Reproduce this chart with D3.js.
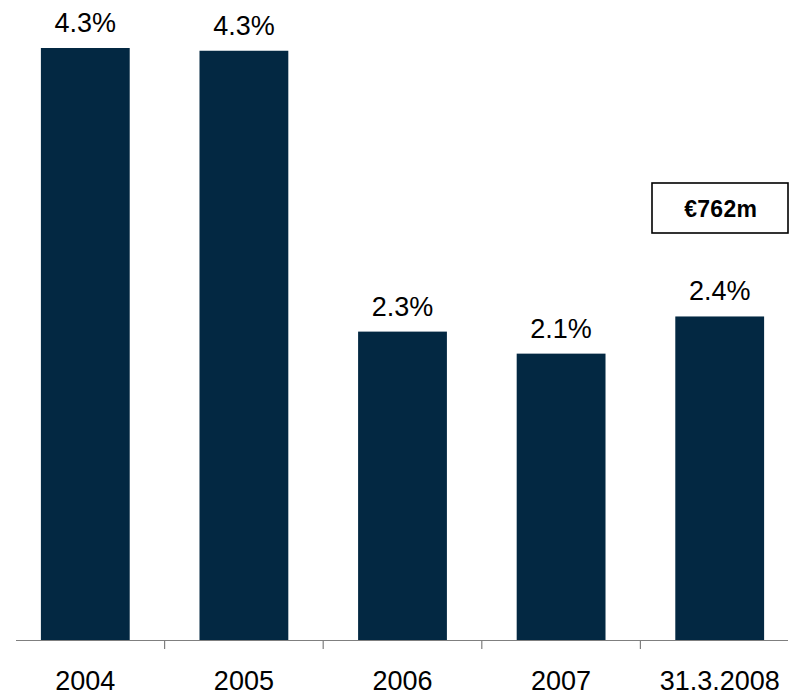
<!DOCTYPE html>
<html>
<head>
<meta charset="utf-8">
<script src="https://cdn.jsdelivr.net/npm/d3@7"></script>
<style>
  body { margin: 0; background: #fff; }
  text { font-family: "Liberation Sans", Arial, sans-serif; fill: #000; }
</style>
</head>
<body>
<div id="wrapper"></div>
<script>
const categories = ["2004", "2005", "2006", "2007", "31.3.2008"]
const values = [4.30, 4.28, 2.24, 2.08, 2.35]
const valueLabels = ["4.3%", "4.3%", "2.3%", "2.1%", "2.4%"]
const calloutText = "€762m"

function drawBarChart() {
    const dimensions = {
        width: 799,
        height: 696,
        baseline: 640,
        top: 48,
    }

    const svg = d3.select("#wrapper")
        .append("svg")
        .attr("width", dimensions.width)
        .attr("height", dimensions.height)

    const xScale = d3.scaleBand()
        .domain(categories)
        .range([6, 799])
        .paddingInner(0.44)
        .paddingOuter(0.22)

    const yScale = d3.scaleLinear()
        .domain([0, 4.3])
        .range([dimensions.baseline, dimensions.top])

    const step = xScale.step()
    const gap = step * xScale.paddingInner()

    // bars
    svg.append("g")
        .selectAll("rect")
        .data(values)
        .join("rect")
        .attr("x", (d, i) => xScale(categories[i]))
        .attr("y", d => yScale(d))
        .attr("width", xScale.bandwidth())
        .attr("height", d => yScale(0) - yScale(d))
        .attr("fill", "#032842")

    // value labels
    svg.append("g")
        .selectAll("text")
        .data(values)
        .join("text")
        .attr("x", (d, i) => xScale(categories[i]) + xScale.bandwidth() / 2)
        .attr("y", d => yScale(d) - 16)
        .attr("text-anchor", "middle")
        .style("font-size", "27px")
        .text((d, i) => valueLabels[i])

    // axis line + separator ticks
    const axis = svg.append("g")
    axis.append("line")
        .attr("x1", 16).attr("x2", 788)
        .attr("y1", yScale(0) + 0.5).attr("y2", yScale(0) + 0.5)
        .attr("stroke", "#7f7f7f")
        .attr("stroke-width", 1.2)
    axis.selectAll(".sep")
        .data(categories.slice(1))
        .join("line")
        .attr("class", "sep")
        .attr("x1", d => xScale(d) - gap / 2)
        .attr("x2", d => xScale(d) - gap / 2)
        .attr("y1", yScale(0))
        .attr("y2", yScale(0) + 9)
        .attr("stroke", "#7f7f7f")
        .attr("stroke-width", 1.2)

    axis.selectAll(".cat")
        .data(categories)
        .join("text")
        .attr("class", "cat")
        .attr("x", d => xScale(d) + xScale.bandwidth() / 2)
        .attr("y", 690)
        .attr("text-anchor", "middle")
        .style("font-size", "27px")
        .text(d => d)

    // callout box
    const last = categories[categories.length - 1]
    const cx = xScale(last) + xScale.bandwidth() / 2 + 1
    const callout = svg.append("g")
    callout.append("rect")
        .attr("x", 652)
        .attr("y", 183)
        .attr("width", 136)
        .attr("height", 50)
        .attr("fill", "none")
        .attr("stroke", "#000")
        .attr("stroke-width", 1.6)
    callout.append("text")
        .attr("x", cx)
        .attr("y", 217)
        .attr("text-anchor", "middle")
        .style("font-size", "23px")
        .style("font-weight", "bold")
        .style("letter-spacing", "0.3px")
        .text(calloutText)
}

drawBarChart()
</script>
</body>
</html>
